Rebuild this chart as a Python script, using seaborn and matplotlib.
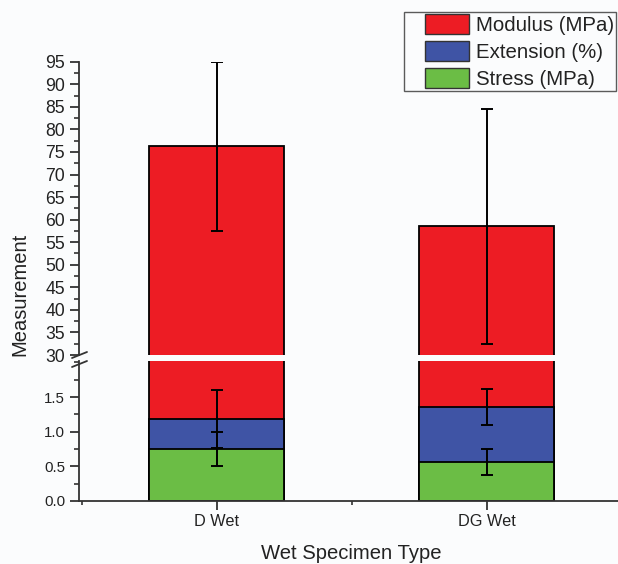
import numpy as np
import pandas as pd
import matplotlib
matplotlib.use("Agg")
import matplotlib.pyplot as plt
from matplotlib.patches import Patch, Rectangle
from matplotlib.legend_handler import HandlerPatch
from matplotlib.ticker import MultipleLocator, FixedLocator
import seaborn as sns

# ---- data -------------------------------------------------------------
specimens = ["D Wet", "DG Wet"]
stress = [0.75, 0.56]            # MPa
stress_err = [0.24, 0.19]
extension = [0.435, 0.79]        # %
extension_err = [0.42, 0.26]
modulus = [75.05, 57.15]         # MPa
modulus_err = [18.8, 26.0]

series_names = ["Modulus (MPa)", "Extension (%)", "Stress (MPa)"]
series_colors = ["#ED1C24", "#3F54A5", "#6BBD45"]

# stacked tops of each segment
stress_top = np.array(stress)
extension_top = stress_top + np.array(extension)
modulus_top = extension_top + np.array(modulus)

df = pd.DataFrame({
    "specimen": specimens,
    "stress_top": stress_top,
    "extension_top": extension_top,
    "modulus_top": modulus_top,
})

# ---- style ------------------------------------------------------------
sns.set_style("ticks")
plt.rcParams["font.family"] = ["Liberation Sans", "DejaVu Sans"]
text_color = "#222222"
bg = "#FBFCFD"

W, H = 618, 564
fig = plt.figure(figsize=(W / 100, H / 100), dpi=100, facecolor=bg)

left = 79 / W
width = (622 - 79) / W
ax_lo = fig.add_axes([left, (H - 501) / H, width, 140 / H])
ax_hi = fig.add_axes([left, (H - 355) / H, width, (355 - 61.7) / H])

layers = [("modulus_top", series_colors[0]),
          ("extension_top", series_colors[1]),
          ("stress_top", series_colors[2])]

for ax in (ax_lo, ax_hi):
    ax.set_facecolor(bg)
    for col, color in layers:
        sns.barplot(data=df, x="specimen", y=col, color=color, width=0.5,
                    saturation=1, edgecolor="black", linewidth=1.3,
                    errorbar=None, ax=ax, zorder=2)
    xs = np.arange(len(specimens))
    for tops, errs in ((stress_top, stress_err),
                       (extension_top, extension_err),
                       (modulus_top, modulus_err)):
        ax.errorbar(xs, tops, yerr=errs, fmt="none", ecolor="black",
                    elinewidth=1.4, capsize=4, capthick=1.4, zorder=3)
    ax.set_xlim(-0.51, 1.5)
    ax.set_ylabel("")
    ax.set_xlabel("")
    for s in ("top", "right"):
        ax.spines[s].set_visible(False)
    ax.spines["left"].set_color("#333333")
    ax.spines["left"].set_linewidth(1.3)
    ax.tick_params(axis="y", which="major", direction="out", length=6.5,
                   width=1.3, color="#333333", pad=3.5, labelcolor=text_color)
    ax.tick_params(axis="y", which="minor", direction="out", length=3.5,
                   width=1.2, color="#333333")

# lower panel
ax_lo.set_ylim(0, 2.02)
ax_lo.yaxis.set_major_locator(FixedLocator([0.0, 0.5, 1.0, 1.5]))
ax_lo.yaxis.set_major_formatter(plt.FuncFormatter(lambda v, p: f"{v:.1f}"))
ax_lo.yaxis.set_minor_locator(MultipleLocator(0.25))
ax_lo.tick_params(axis="y", labelsize=10.8)
ax_lo.spines["bottom"].set_color("#333333")
ax_lo.spines["bottom"].set_linewidth(1.3)
ax_lo.set_xticks(range(len(specimens)))
ax_lo.set_xticklabels(specimens)
ax_lo.xaxis.set_minor_locator(FixedLocator([-0.5, 0.5, 1.5]))
ax_lo.tick_params(axis="x", which="major", direction="out", length=6.5,
                  width=1.3, color="#333333", pad=2.5, labelsize=11.7,
                  labelcolor=text_color)
ax_lo.tick_params(axis="x", which="minor", direction="out", length=3,
                  width=1.2, color="#333333")

# upper panel
ax_hi.set_ylim(30, 95)
ax_hi.yaxis.set_major_locator(MultipleLocator(5))
ax_hi.yaxis.set_minor_locator(MultipleLocator(2.5))
ax_hi.tick_params(axis="y", labelsize=12.7)
ax_hi.spines["bottom"].set_visible(False)
ax_hi.tick_params(axis="x", which="both", bottom=False, labelbottom=False)

# break marks on the y axis
for yc in (355, 364):
    fig.add_artist(plt.Line2D([72 / W, 87 / W],
                              [(H - yc - 3) / H, (H - yc + 3) / H],
                              color="#333333", lw=1.3))

# axis titles
fig.text(20 / W, 1 - 294 / H, "Measurement", rotation=90, fontsize=14.5,
         ha="center", va="center", color=text_color)
fig.text(351 / W, 5 / H, "Wet Specimen Type", fontsize=14.6,
         ha="center", va="baseline", color=text_color)

# legend
fs = 14.7
patch_w = 2.15 * fs


def offset_patch(legend, orig_handle, xdescent, ydescent, width, height, fontsize):
    return Rectangle((-xdescent + width - patch_w, -ydescent), patch_w, height)


handles = [Patch(facecolor=c, edgecolor="#333333", linewidth=1.0)
           for c in series_colors]
leg = ax_hi.legend(handles, series_names, loc="upper left",
                   bbox_to_anchor=(404 / W, 1 - 12 / H),
                   bbox_transform=fig.transFigure, borderaxespad=0,
                   fontsize=fs, frameon=True, fancybox=False,
                   handlelength=3.08, handleheight=1.13, handletextpad=0.34,
                   labelspacing=0.29, borderpad=0.1,
                   handler_map={Patch: HandlerPatch(patch_func=offset_patch)})
leg.get_frame().set_edgecolor("#333333")
leg.get_frame().set_linewidth(1.0)
leg.get_frame().set_facecolor(bg)
for t in leg.get_texts():
    t.set_color(text_color)

fig.savefig("out.png", dpi=100, facecolor=bg)
